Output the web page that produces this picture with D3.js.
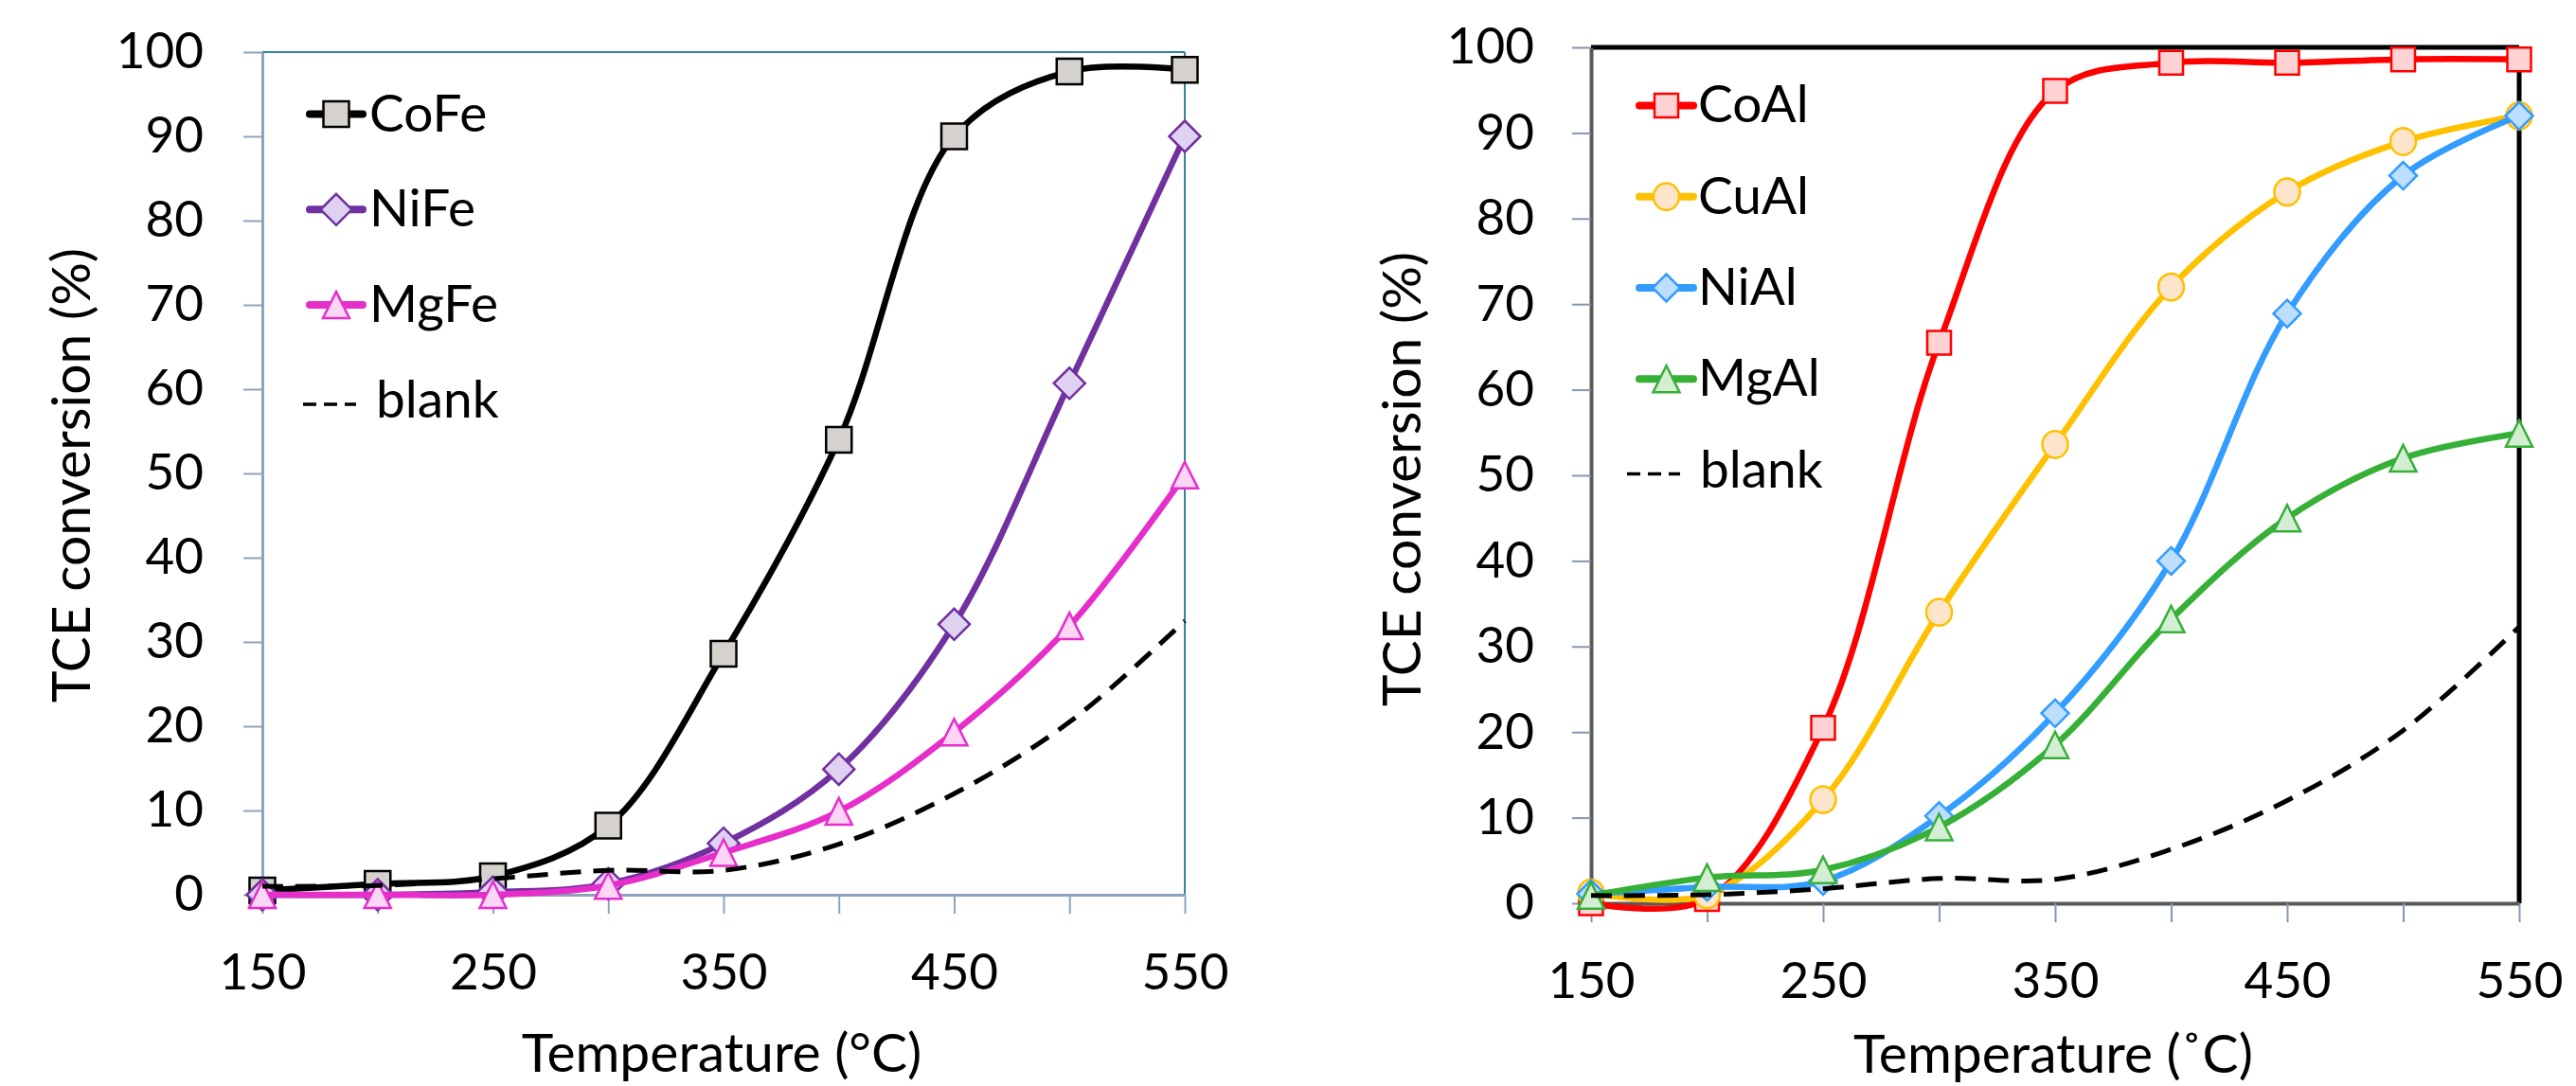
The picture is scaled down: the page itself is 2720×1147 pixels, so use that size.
<!DOCTYPE html>
<html><head><meta charset="utf-8">
<script src="https://cdn.jsdelivr.net/npm/d3@7"></script>
<style>body{margin:0;background:#fff}</style>
</head><body>
<svg id="c" width="2720" height="1147" xmlns="http://www.w3.org/2000/svg"></svg>
<script>
// ---------- data ----------
const temps = [150, 200, 250, 300, 350, 400, 450, 500, 550];
const xTickLabels = [150, 250, 350, 450, 550];
const yTicks = [0, 10, 20, 30, 40, 50, 60, 70, 80, 90, 100];

const coFe   = [0.5, 1.3, 2.2, 8.2, 28.6, 54.0, 90.0, 97.7, 97.9];
const niFe   = [0.0, 0.0, 0.3, 1.3, 6.1, 14.9, 32.1, 60.7, 90.0];
const mgFe   = [0.0, 0.0, 0.0, 1.1, 5.0, 9.9, 19.3, 31.9, 49.8];
const blankL = [1.0, 1.1, 1.9, 2.9, 2.9, 6.0, 12.0, 20.5, 32.5];

const coAl   = [0.0, 0.5, 20.5, 65.5, 94.9, 98.2, 98.2, 98.6, 98.6];
const cuAl   = [1.2, 1.0, 12.1, 34.0, 53.6, 72.0, 83.1, 89.0, 92.0];
const niAl   = [1.1, 1.9, 2.6, 10.2, 22.2, 40.0, 68.9, 85.0, 92.0];
const mgAl   = [0.9, 3.0, 3.9, 8.9, 18.5, 33.2, 45.0, 52.0, 54.9];
const blankR = [0.9, 1.0, 1.7, 2.9, 2.8, 6.3, 12.0, 20.2, 32.3];

const leftNames  = ["CoFe", "NiFe", "MgFe", "blank"];
const rightNames = ["CoAl", "CuAl", "NiAl", "MgAl", "blank"];
const yTitle = "TCE conversion (%)";
const xTitleLeft = "Temperature (°C)";
const xTitleRight = "Temperature (˚C)";

// ---------- styles ----------
const FONT = 'Lato, "Open Sans", sans-serif';
const leftStyles = [
  {line:"#000000", fill:"#d5d1cd", stroke:"#000000", marker:"square", size:27, lw:6.5},
  {line:"#7030a0", fill:"#dfd2f0", stroke:"#7030a0", marker:"diamond", size:33, lw:6.5},
  {line:"#e62ecb", fill:"#fdd6f6", stroke:"#e62ecb", marker:"triangle", size:28, lw:6.5},
  {line:"#000000", dash:true, lw:5}
];
const rightStyles = [
  {line:"#ff0000", fill:"#ffd3d3", stroke:"#ff0000", marker:"square", size:25, lw:6.5},
  {line:"#ffc000", fill:"#fde5cb", stroke:"#ffc000", marker:"circle", size:27, lw:6.5},
  {line:"#339cff", fill:"#bedeff", stroke:"#339cff", marker:"diamond", size:29, lw:6.5},
  {line:"#36b037", fill:"#d3eed3", stroke:"#36b037", marker:"triangle", size:28, lw:6.5},
  {line:"#000000", dash:true, lw:5}
];

function markerPath(type, s) {
  const h = s / 2;
  if (type === "square") return `M${-h},${-h}h${s}v${s}h${-s}Z`;
  if (type === "diamond") return `M0,${-h}L${h},0L0,${h}L${-h},0Z`;
  if (type === "triangle") return `M0,${-h}L${h},${h}L${-h},${h}Z`;
  if (type === "circle") return `M${-h},0a${h*0.95},${h} 0 1,0 ${s},0a${h*0.95},${h} 0 1,0 ${-s},0Z`;
  return "";
}

const svg = d3.select("#c");

function drawChart(cfg) {
  const x = d3.scaleLinear().domain([150, 550]).range([cfg.x0, cfg.x1]);
  const y = d3.scaleLinear().domain([0, 100]).range([cfg.y0, cfg.y1]);
  const g = svg.append("g");

  // frame (top/right)
  g.append("line").attr("x1", cfg.x0).attr("x2", cfg.x1).attr("y1", y(100)).attr("y2", y(100))
    .attr("stroke", cfg.frameColor).attr("stroke-width", cfg.frameW);
  g.append("line").attr("x1", cfg.x1).attr("x2", cfg.x1).attr("y1", y(100)).attr("y2", y(0))
    .attr("stroke", cfg.frameColor).attr("stroke-width", cfg.frameW);

  // y axis
  const ya = g.append("g").attr("transform", `translate(${cfg.x0},0)`)
    .call(d3.axisLeft(y).tickValues(yTicks).tickSize(20).tickSizeOuter(0).tickPadding(cfg.yPad));
  ya.select(".domain").attr("stroke", cfg.axisColor).attr("stroke-width", cfg.axisW);
  ya.selectAll(".tick line").attr("stroke", cfg.tickColor).attr("stroke-width", 2);
  ya.selectAll(".tick text").attr("font-family", FONT).attr("font-size", 53).attr("fill", "#000");

  // x axis
  const xa = g.append("g").attr("transform", `translate(0,${cfg.y0})`)
    .call(d3.axisBottom(x).tickValues(temps).tickSize(20).tickSizeOuter(0).tickPadding(42)
      .tickFormat(d => xTickLabels.includes(d) ? d : ""));
  xa.select(".domain").attr("stroke", cfg.axisColor).attr("stroke-width", cfg.axisW);
  xa.selectAll(".tick line").attr("stroke", cfg.tickColor).attr("stroke-width", 2);
  xa.selectAll(".tick text").attr("font-family", FONT).attr("font-size", 53).attr("fill", "#000");

  // titles
  g.append("text").attr("x", (cfg.x0 + cfg.x1) / 2 - 2).attr("y", cfg.xTitleY)
    .attr("text-anchor", "middle").attr("font-family", FONT).attr("font-size", 57)
    .text(cfg.xTitle);
  g.append("text").attr("transform", `translate(${cfg.yTitleX},${cfg.yTitleY}) rotate(-90)`)
    .attr("text-anchor", "middle").attr("font-family", FONT).attr("font-size", 57)
    .text(yTitle);

  // series
  const line = d3.line().x((d, i) => x(temps[i])).y(d => y(d)).curve(d3.curveCatmullRom.alpha(0.5));
  cfg.series.forEach(s => {
    const st = s.style;
    const p = g.append("path").attr("d", line(s.values)).attr("fill", "none")
      .attr("stroke", st.line).attr("stroke-width", st.lw).attr("stroke-linejoin", "round");
    if (st.dash) p.attr("stroke-dasharray", "22,13");
    if (st.marker) {
      g.selectAll(null).data(s.values).enter().append("path")
        .attr("transform", (d, i) => `translate(${x(temps[i])},${y(d)})`)
        .attr("d", markerPath(st.marker, st.size))
        .attr("fill", st.fill).attr("stroke", st.stroke).attr("stroke-width", 2.5);
    }
  });

  // legend
  cfg.series.forEach((s, i) => {
    const st = s.style;
    const base = cfg.legBase + i * cfg.legStep;
    const cy = base - 18;
    if (st.dash) {
      g.append("line").attr("x1", cfg.legDashX0).attr("x2", cfg.legDashX1).attr("y1", cy + 4).attr("y2", cy + 4)
        .attr("stroke", "#000").attr("stroke-width", 3.5).attr("stroke-dasharray", "14,8");
      g.append("text").attr("x", cfg.legDashText).attr("y", base).attr("font-family", FONT)
        .attr("font-size", 55).text(s.name);
    } else {
      g.append("line").attr("x1", cfg.legX0).attr("x2", cfg.legX1).attr("y1", cy).attr("y2", cy)
        .attr("stroke", st.line).attr("stroke-width", 8).attr("stroke-linecap", "round");
      g.append("path").attr("transform", `translate(${(cfg.legX0 + cfg.legX1) / 2},${cy})`)
        .attr("d", markerPath(st.marker, st.size)).attr("fill", st.fill)
        .attr("stroke", st.stroke).attr("stroke-width", 2.5);
      g.append("text").attr("x", cfg.legText).attr("y", base).attr("font-family", FONT)
        .attr("font-size", 55).text(s.name);
    }
  });
}

const leftData = [coFe, niFe, mgFe, blankL];
const rightData = [coAl, cuAl, niAl, mgAl, blankR];

drawChart({
  x0: 277, x1: 1251, y0: 945, y1: 55,
  frameColor: "#31849b", frameW: 2, axisColor: "#8ea4bd", axisW: 3, tickColor: "#8ea4bd",
  yPad: 42, xTitle: xTitleLeft, xTitleY: 1132, yTitleX: 95, yTitleY: 502,
  series: leftNames.map((n, i) => ({name: n, values: leftData[i], style: leftStyles[i]})),
  legBase: 138.5, legStep: 100.8, legX0: 327, legX1: 383, legText: 390,
  legDashX0: 320, legDashX1: 376, legDashText: 397
});

drawChart({
  x0: 1680, x1: 2660, y0: 954, y1: 50,
  frameColor: "#000000", frameW: 5, axisColor: "#595959", axisW: 4, tickColor: "#8497b0",
  yPad: 40, xTitle: xTitleRight, xTitleY: 1133, yTitleX: 1500, yTitleY: 506,
  series: rightNames.map((n, i) => ({name: n, values: rightData[i], style: rightStyles[i]})),
  legBase: 129.4, legStep: 96.3, legX0: 1731, legX1: 1788, legText: 1793,
  legDashX0: 1718, legDashX1: 1774, legDashText: 1795
});
</script>
</body></html>
